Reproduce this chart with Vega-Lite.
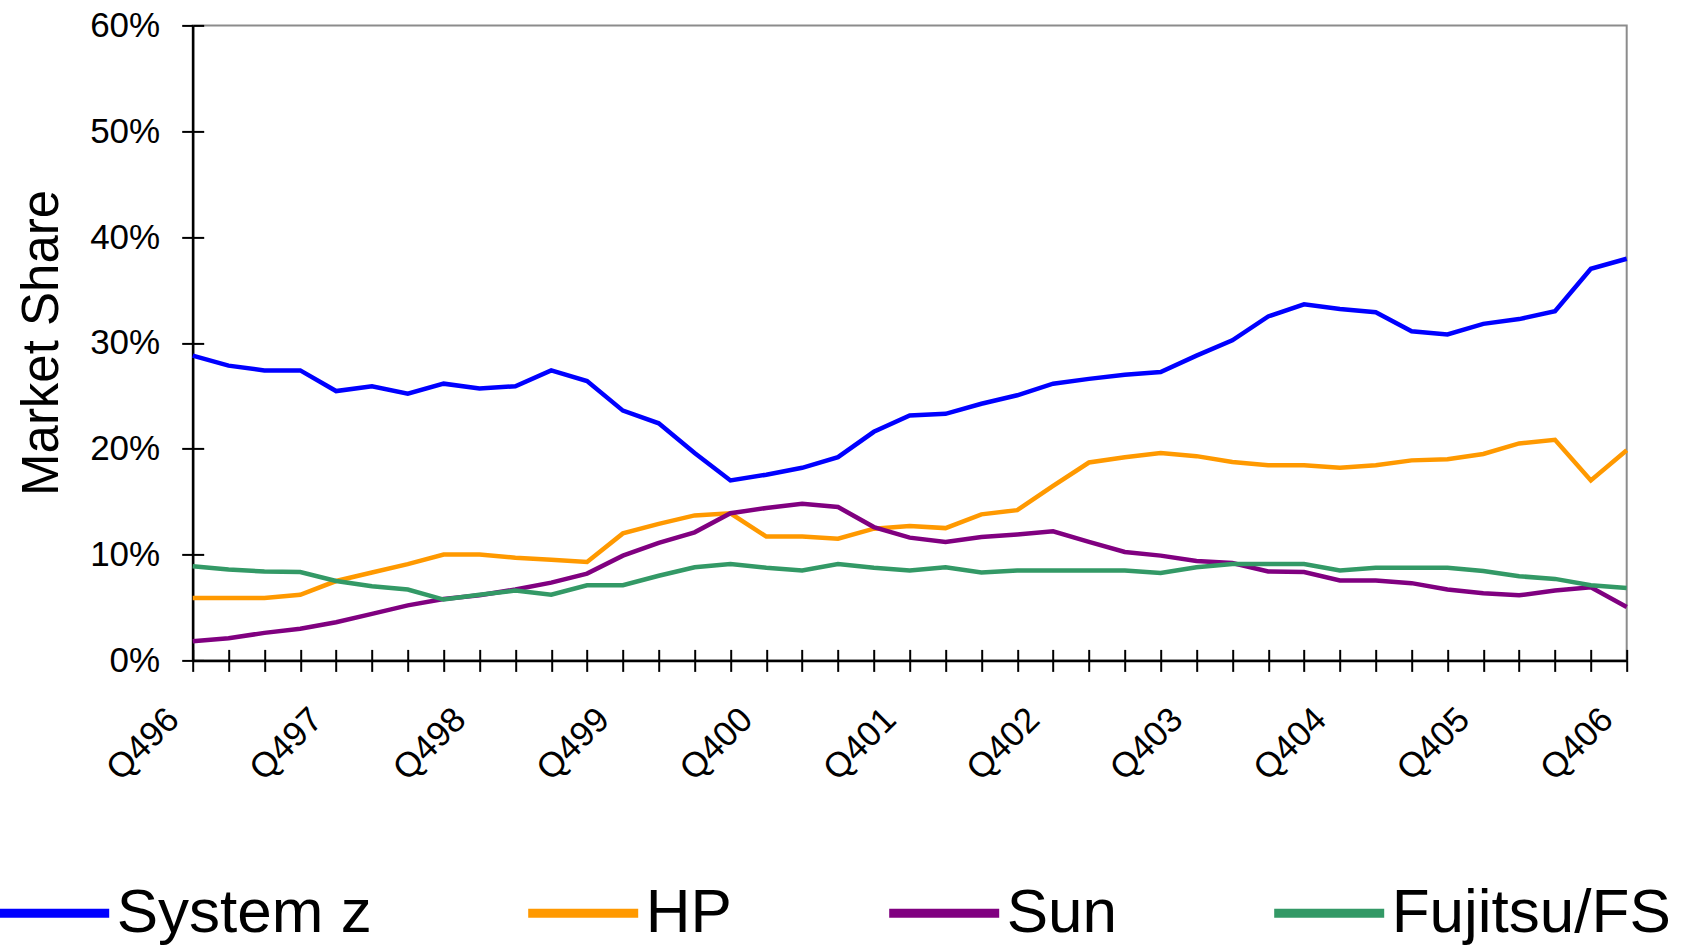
{
  "$schema": "https://vega.github.io/schema/vega-lite/v6.json",
  "width": 1434,
  "height": 635,
  "autosize": {"type": "none"},
  "padding": {"left": 192.7, "top": 25.4, "right": 64.3, "bottom": 286.6},
  "background": "white",
  "config": {
    "font": "Liberation Sans",
    "view": {"stroke": "#8c8c8c", "strokeWidth": 2}
  },
  "data": {
    "values": [
      {"q": "Q496", "System z": 28.8, "HP": 5.9, "Sun": 1.8, "Fujitsu/FS": 8.9},
      {"q": "Q197", "System z": 27.85, "HP": 5.9, "Sun": 2.1, "Fujitsu/FS": 8.6},
      {"q": "Q297", "System z": 27.4, "HP": 5.9, "Sun": 2.6, "Fujitsu/FS": 8.4},
      {"q": "Q397", "System z": 27.4, "HP": 6.2, "Sun": 3.0, "Fujitsu/FS": 8.35},
      {"q": "Q497", "System z": 25.45, "HP": 7.5, "Sun": 3.6, "Fujitsu/FS": 7.5},
      {"q": "Q198", "System z": 25.9, "HP": 8.3, "Sun": 4.4, "Fujitsu/FS": 7.0},
      {"q": "Q298", "System z": 25.2, "HP": 9.1, "Sun": 5.2, "Fujitsu/FS": 6.7},
      {"q": "Q398", "System z": 26.15, "HP": 10.0, "Sun": 5.8, "Fujitsu/FS": 5.75},
      {"q": "Q498", "System z": 25.7, "HP": 10.0, "Sun": 6.15, "Fujitsu/FS": 6.2},
      {"q": "Q199", "System z": 25.9, "HP": 9.7, "Sun": 6.7, "Fujitsu/FS": 6.6},
      {"q": "Q299", "System z": 27.4, "HP": 9.5, "Sun": 7.35, "Fujitsu/FS": 6.2},
      {"q": "Q399", "System z": 26.4, "HP": 9.3, "Sun": 8.2, "Fujitsu/FS": 7.1},
      {"q": "Q499", "System z": 23.6, "HP": 12.0, "Sun": 9.9, "Fujitsu/FS": 7.1},
      {"q": "Q100", "System z": 22.4, "HP": 12.9, "Sun": 11.1, "Fujitsu/FS": 8.0},
      {"q": "Q200", "System z": 19.6, "HP": 13.7, "Sun": 12.1, "Fujitsu/FS": 8.8},
      {"q": "Q300", "System z": 17.0, "HP": 13.9, "Sun": 13.9, "Fujitsu/FS": 9.1},
      {"q": "Q400", "System z": 17.55, "HP": 11.7, "Sun": 14.4, "Fujitsu/FS": 8.75},
      {"q": "Q101", "System z": 18.2, "HP": 11.7, "Sun": 14.8, "Fujitsu/FS": 8.5},
      {"q": "Q201", "System z": 19.2, "HP": 11.5, "Sun": 14.5, "Fujitsu/FS": 9.1},
      {"q": "Q301", "System z": 21.6, "HP": 12.45, "Sun": 12.6, "Fujitsu/FS": 8.75},
      {"q": "Q401", "System z": 23.15, "HP": 12.7, "Sun": 11.6, "Fujitsu/FS": 8.5},
      {"q": "Q102", "System z": 23.3, "HP": 12.5, "Sun": 11.2, "Fujitsu/FS": 8.8},
      {"q": "Q202", "System z": 24.25, "HP": 13.8, "Sun": 11.65, "Fujitsu/FS": 8.3},
      {"q": "Q302", "System z": 25.05, "HP": 14.2, "Sun": 11.9, "Fujitsu/FS": 8.5},
      {"q": "Q402", "System z": 26.15, "HP": 16.5, "Sun": 12.2, "Fujitsu/FS": 8.5},
      {"q": "Q103", "System z": 26.6, "HP": 18.7, "Sun": 11.2, "Fujitsu/FS": 8.5},
      {"q": "Q203", "System z": 27.0, "HP": 19.2, "Sun": 10.25, "Fujitsu/FS": 8.5},
      {"q": "Q303", "System z": 27.25, "HP": 19.6, "Sun": 9.9, "Fujitsu/FS": 8.25},
      {"q": "Q403", "System z": 28.8, "HP": 19.3, "Sun": 9.4, "Fujitsu/FS": 8.8},
      {"q": "Q104", "System z": 30.25, "HP": 18.75, "Sun": 9.2, "Fujitsu/FS": 9.1},
      {"q": "Q204", "System z": 32.5, "HP": 18.45, "Sun": 8.4, "Fujitsu/FS": 9.1},
      {"q": "Q304", "System z": 33.65, "HP": 18.45, "Sun": 8.35, "Fujitsu/FS": 9.1},
      {"q": "Q404", "System z": 33.2, "HP": 18.2, "Sun": 7.55, "Fujitsu/FS": 8.5},
      {"q": "Q105", "System z": 32.9, "HP": 18.45, "Sun": 7.55, "Fujitsu/FS": 8.75},
      {"q": "Q205", "System z": 31.1, "HP": 18.9, "Sun": 7.3, "Fujitsu/FS": 8.75},
      {"q": "Q305", "System z": 30.8, "HP": 19.0, "Sun": 6.7, "Fujitsu/FS": 8.75},
      {"q": "Q405", "System z": 31.8, "HP": 19.5, "Sun": 6.35, "Fujitsu/FS": 8.45},
      {"q": "Q106", "System z": 32.25, "HP": 20.5, "Sun": 6.15, "Fujitsu/FS": 7.95},
      {"q": "Q206", "System z": 33.0, "HP": 20.85, "Sun": 6.6, "Fujitsu/FS": 7.7},
      {"q": "Q306", "System z": 37.0, "HP": 17.0, "Sun": 6.9, "Fujitsu/FS": 7.1},
      {"q": "Q406", "System z": 37.95, "HP": 19.85, "Sun": 5.05, "Fujitsu/FS": 6.85}
    ]
  },
  "transform": [
    {"fold": ["System z", "HP", "Sun", "Fujitsu/FS"], "as": ["series", "share"]}
  ],
  "layer": [
    {
      "mark": {"type": "line", "strokeWidth": 4.5},
      "encoding": {
        "x": {
          "field": "q", "type": "ordinal", "sort": null,
          "scale": {"type": "point", "padding": 0},
          "axis": {
            "orient": "bottom", "title": null, "grid": false,
            "domainColor": "black", "domainWidth": 2.5,
            "tickColor": "black", "tickWidth": 2, "tickSize": 11,
            "labelAngle": -45, "labelAlign": "right", "labelBaseline": "top",
            "labelFontSize": 35, "labelColor": "black", "labelFont": "Liberation Sans",
            "labelPadding": 30, "labelOffset": -32, "labelOverlap": false,
            "labelExpr": "substring(datum.value, 0, 2) == 'Q4' ? datum.value : ''"
          }
        },
        "y": {
          "field": "share", "type": "quantitative",
          "scale": {"domain": [0, 60], "nice": false, "zero": true},
          "axis": {
            "orient": "left", "values": [0, 10, 20, 30, 40, 50, 60], "grid": false,
            "domainColor": "black", "domainWidth": 2.5,
            "tickColor": "black", "tickWidth": 2, "tickSize": 11,
            "labelFontSize": 35, "labelColor": "black", "labelFont": "Liberation Sans",
            "labelPadding": 22,
            "labelExpr": "datum.value + '%'",
            "title": "Market Share", "titleFontSize": 51, "titleFontWeight": "normal",
            "titleColor": "black", "titleFont": "Liberation Sans",
            "titleX": -135, "titleY": 317, "titleAngle": -90,
            "titleAlign": "center", "titleBaseline": "alphabetic"
          }
        },
        "color": {
          "field": "series", "type": "nominal",
          "sort": ["System z", "HP", "Sun", "Fujitsu/FS"],
          "scale": {
            "domain": ["System z", "HP", "Sun", "Fujitsu/FS"],
            "range": ["#0000FF", "#FF9900", "#800080", "#339966"]
          },
          "legend": {
            "orient": "none", "legendX": -198, "legendY": 828,
            "direction": "horizontal", "columns": 4, "title": null,
            "padding": 0, "symbolType": "stroke", "symbolSize": 12100,
            "symbolStrokeWidth": 9, "labelFontSize": 62, "labelColor": "black",
            "labelFont": "Liberation Sans", "labelOffset": 3, "labelLimit": 0,
            "columnPadding": 138
          }
        }
      }
    },
    {
      "mark": {"type": "line", "opacity": 0},
      "encoding": {
        "x": {
          "field": "q", "type": "ordinal", "sort": null,
          "axis": {
            "orient": "bottom", "offset": -11, "title": null, "grid": false,
            "domain": false, "labels": false,
            "tickColor": "black", "tickWidth": 2, "tickSize": 11
          }
        },
        "y": {
          "field": "share", "type": "quantitative",
          "axis": {
            "orient": "left", "offset": -11, "title": null, "grid": false,
            "domain": false, "labels": false, "values": [0, 10, 20, 30, 40, 50, 60],
            "tickColor": "black", "tickWidth": 2, "tickSize": 11
          }
        },
        "detail": {"field": "series"}
      }
    }
  ],
  "resolve": {"axis": {"x": "independent", "y": "independent"}}
}
